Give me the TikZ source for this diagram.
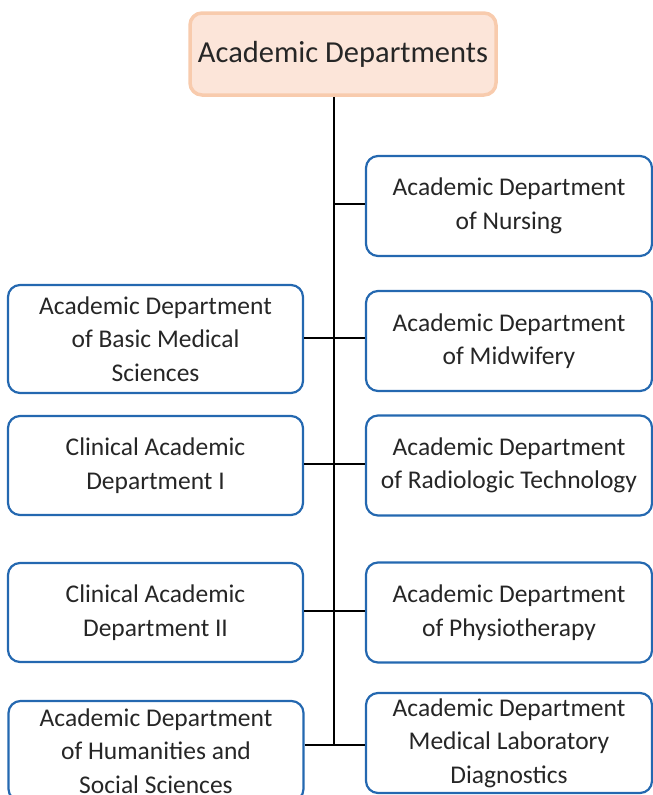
\documentclass[tikz,border=0pt]{standalone}
\usepackage{fontspec}
\setmainfont{Carlito}
\usetikzlibrary{positioning, calc}
\definecolor{deptblue}{HTML}{2468B0}
\definecolor{headfill}{HTML}{FCE5D9}
\definecolor{headline}{HTML}{F8CBAD}
\definecolor{textgray}{HTML}{262626}

\begin{document}
\begin{tikzpicture}[x=1pt, y=-1pt, line width=2pt,
    dept/.style={draw=deptblue, line width=2.2pt, rounded corners=12pt, align=center,
      text=textgray, font=\fontsize{25.5}{33.5}\selectfont, inner sep=0pt},
    rdept/.style={dept, minimum width=286pt, minimum height=100pt},
    ldept/.style={dept, minimum width=295pt, minimum height=100pt},
    head/.style={draw=headline, fill=headfill, line width=3.5pt, rounded corners=12pt,
      text=textgray, font=\fontsize{30.5}{34}\selectfont, minimum width=306pt, minimum height=82pt}]
    \useasboundingbox (0,0) rectangle (653,795);

    % Head node
    \node[head] (head) at (343,54) {Academic Departments};

    % Departments on the right
    \node[rdept] (nursing) at (509,206) {Academic Department\\of Nursing};
    \node[rdept] (midwifery) at (509,341) {Academic Department\\of Midwifery};
    \node[rdept] (radiology) at (509,465.5) {Academic Department\\of Radiologic Technology};
    \node[rdept] (physio) at (509,612.5) {Academic Department\\of Physiotherapy};
    \node[rdept] (labdiag) at (509,743) {Academic Department\\Medical Laboratory\\Diagnostics};

    % Departments on the left
    \node[ldept, minimum height=108pt] (basic) at (155.5,339) {Academic Department\\of Basic Medical\\Sciences};
    \node[ldept, minimum height=99pt] (clinone) at (155.5,465.5) {Clinical Academic\\Department I};
    \node[ldept, minimum height=99pt] (clintwo) at (155.5,612.5) {Clinical Academic\\Department II};
    \node[ldept] (humanities) at (156,751) {Academic Department\\of Humanities and\\Social Sciences};

    % Trunk line
    \coordinate (trunk) at (334,745);
    \draw (head.south -| trunk) -- (trunk);

    % Branches
    \draw (nursing.west |- 0,204) -- (trunk |- 0,204);
    \draw (basic.east |- 0,338) -- (midwifery.west |- 0,338);
    \draw (clinone.east |- 0,464) -- (radiology.west |- 0,464);
    \draw (clintwo.east |- 0,611) -- (physio.west |- 0,611);
    \draw (humanities.east |- trunk) -- (labdiag.west |- trunk);
\end{tikzpicture}
\end{document}
